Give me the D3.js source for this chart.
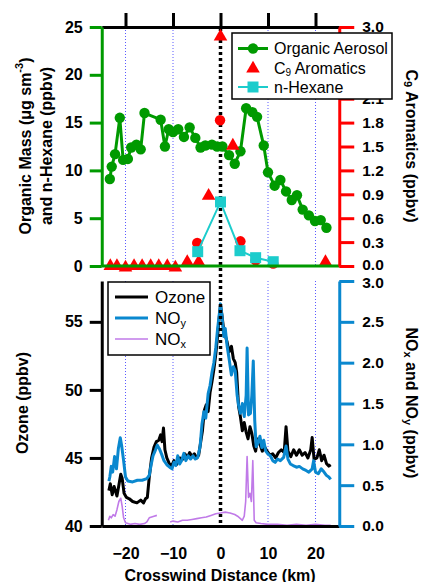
<!DOCTYPE html>
<html><head><meta charset="utf-8">
<script src="https://cdn.jsdelivr.net/npm/d3@7"></script>
<style>
html,body{margin:0;padding:0;background:#fff;}
svg{display:block;font-family:"Liberation Sans",Arial,Helvetica,sans-serif;}
</style></head>
<body><svg id="c" width="426" height="582"></svg>
<script>
// ---------- DATA ----------
const xTicks = [-20, -10, 0, 10, 20];
const orgMassTicks = [0, 5, 10, 15, 20, 25];
const c9Ticks = [0, 0.3, 0.6, 0.9, 1.2, 1.5, 1.8, 2.1, 2.4, 2.7, 3.0];
const c9HiddenLabels = [2.4, 2.7]; // covered by the legend box in the original
const ozoneTicks = [40, 45, 50, 55];
const noTicks = [0, 0.5, 1.0, 1.5, 2.0, 2.5, 3.0];

// Organic aerosol [km, ug sm-3]
const organicAerosol = [
 [-23.3,9.1],[-22.9,10.4],[-22.2,11.7],[-21.2,15.5],[-20.5,11.1],[-19.5,11.2],[-18.8,12.4],
 [-17.7,12.7],[-16.8,12.2],[-16.0,16.0],[-12.6,15.3],[-11.7,12.5],[-10.9,14.3],[-10.0,14.0],
 [-8.9,14.3],[-7.7,13.5],[-6.5,14.5],[-5.3,13.4],[-4.2,12.4],[-3.2,12.6],[-1.8,12.7],[-0.7,12.5],
 [0.4,12.5],[1.8,11.6],[3.0,10.7],[4.2,12.0],[5.4,16.5],[6.7,16.1],[7.7,15.6],[9.1,12.6],
 [10.0,9.8],[11.4,8.4],[12.6,9.0],[13.8,7.8],[15.0,6.9],[16.1,7.4],[17.3,5.9],[18.6,5.3],
 [19.9,4.7],[21.1,4.8],[22.3,4.0]
];
// C9 aromatics, triangles [km, ppbv]
const c9Aromatics = [
 [-23.2,0.0],[-21.8,0.0],[-20.0,-0.02],[-18.2,0.0],[-16.5,0.0],[-14.7,0.0],[-13.0,0.0],
 [-11.2,0.0],[-9.5,-0.02],[-7.0,0.05],[-4.6,0.05],[-2.5,0.88],[0.0,2.88],[2.6,1.51],[22.1,0.05]
];
// C9 aromatics, circles (second measurement) [km, ppbv]
const c9Circles = [[-4.9,0.29],[-0.1,1.83],[4.2,0.31],[7.4,0.07],[11.1,0.03]];
// n-Hexane [km, ppbv]
const nHexane = [[-4.8,1.5],[0.0,6.7],[4.1,1.6],[7.4,0.87],[11.1,0.45]];

// Ozone [km, ppbv]
const ozone = [
 [-23.5,42.6],[-23.2,43.1],[-22.8,42.3],[-22.4,42.9],[-21.8,42.2],[-21.4,43.0],[-21.0,43.8],
 [-20.7,43.5],[-20.3,42.4],[-19.8,42.1],[-19.2,42.0],[-18.5,41.8],[-17.6,41.7],[-16.8,41.9],
 [-16.2,41.7],[-15.8,42.0],[-15.4,42.1],[-15.0,43.6],[-14.5,45.0],[-14.0,45.8],[-13.5,46.2],
 [-13.0,46.3],[-12.6,46.7],[-12.3,46.2],[-12.0,47.2],[-11.7,45.6],[-11.3,45.0],[-10.8,44.6],
 [-10.3,44.4],[-9.8,44.8],[-9.3,44.5],[-8.6,45.0],[-8.0,44.9],[-7.5,45.3],[-7.0,45.0],
 [-6.5,45.4],[-6.0,45.1],[-5.5,45.3],[-5.0,45.0],[-4.6,45.2],[-4.2,46.1],[-3.8,47.0],
 [-3.4,48.5],[-3.0,48.9],[-2.6,48.4],[-2.2,49.8],[-1.8,50.6],[-1.4,51.5],[-1.0,52.6],
 [-0.6,54.0],[-0.3,55.2],[0.0,56.2],[0.3,55.5],[0.6,54.6],[1.0,54.0],[1.4,53.5],[1.8,52.8],
 [2.3,53.2],[2.7,52.3],[3.1,52.0],[3.4,51.3],[3.8,48.8],[4.2,48.0],[4.6,47.0],[5.0,47.6],
 [5.4,46.9],[5.8,46.4],[6.2,47.3],[6.6,46.8],[7.0,45.9],[7.4,45.5],[7.8,46.4],[8.3,46.0],
 [8.8,45.5],[9.3,45.8],[9.8,45.5],[10.4,45.2],[11.0,45.3],[11.6,45.0],[12.2,45.4],[12.8,45.6],
 [13.4,45.4],[13.8,47.3],[14.2,45.5],[14.8,45.1],[15.4,45.6],[16.0,45.2],[16.6,45.6],
 [17.2,45.2],[17.8,45.4],[18.4,45.0],[19.0,45.6],[19.3,46.5],[19.7,44.9],[20.3,45.0],
 [20.8,45.6],[21.3,44.8],[21.8,45.2],[22.3,44.6],[22.8,44.4],[23.2,44.5]
];
// NOy [km, ppbv]
const noy = [
 [-23.5,0.55],[-23.3,0.60],[-23.0,0.73],[-22.7,0.66],[-22.3,0.85],[-21.9,0.70],[-21.5,0.95],
 [-21.1,1.08],[-20.8,0.98],[-20.4,0.80],[-20.0,0.60],[-19.5,0.55],[-18.5,0.54],[-17.5,0.56],
 [-16.5,0.56],[-15.5,0.58],[-15.0,0.62],[-14.6,0.75],[-14.2,0.86],[-13.7,0.93],[-13.3,0.99],
 [-12.9,0.95],[-12.4,0.88],[-11.9,0.80],[-11.3,0.75],[-10.7,0.72],[-10.2,0.70],[-9.8,0.78],
 [-9.4,0.74],[-9.0,0.86],[-8.6,0.76],[-8.2,0.80],[-7.7,0.89],[-7.3,0.80],[-6.8,0.86],
 [-6.3,0.82],[-5.8,0.86],[-5.3,0.82],[-4.8,0.84],[-4.3,0.97],[-3.9,1.25],[-3.5,1.40],
 [-3.1,1.32],[-2.6,1.62],[-2.2,1.72],[-1.8,1.88],[-1.4,2.00],[-1.0,2.18],[-0.6,2.42],
 [-0.2,2.62],[0.0,2.72],[0.3,2.58],[0.7,2.32],[1.0,2.42],[1.4,2.20],[1.8,2.05],[2.3,1.85],
 [2.7,1.95],[3.1,1.90],[3.5,1.60],[3.8,1.48],[4.2,1.38],[4.6,1.50],[5.0,1.34],[5.4,1.60],
 [5.6,2.18],[5.9,1.36],[6.3,1.38],[6.6,1.60],[6.9,2.02],[7.2,1.30],[7.5,0.97],[7.9,1.02],
 [8.3,1.10],[8.7,0.96],[9.1,1.05],[9.5,0.92],[10.0,0.88],[10.5,0.86],[11.0,0.80],[11.5,0.78],
 [12.0,0.82],[12.6,0.80],[13.3,0.84],[13.8,0.98],[14.2,0.82],[14.7,0.76],[15.3,0.74],
 [16.0,0.72],[16.6,0.73],[17.3,0.70],[18.0,0.68],[18.6,0.66],[19.3,0.70],[19.6,0.80],
 [20.0,0.66],[20.6,0.64],[21.2,0.70],[21.8,0.66],[22.3,0.62],[22.8,0.60],[23.2,0.57]
];
// NOx [km, ppbv]; null = gap in record
const nox = [
 [-23.6,0.07],[-23.3,0.12],[-23.0,0.10],[-22.6,0.14],[-22.2,0.12],[-21.8,0.20],[-21.4,0.30],
 [-21.0,0.34],[-20.7,0.24],[-20.4,0.10],[-20.0,0.04],[-19.0,0.02],[-18.0,0.03],[-17.0,0.02],
 [-16.0,0.03],[-15.5,0.05],[-15.0,0.10],[-14.5,0.11],[-14.0,0.12],[-13.4,0.13],[-12.0,null],
 [-10.6,0.05],[-10.0,0.06],[-9.0,0.05],[-8.0,0.07],[-7.0,0.07],[-6.0,0.08],[-5.0,0.09],
 [-4.0,0.10],[-3.0,0.11],[-2.0,0.13],[-1.0,0.15],[0.0,0.16],[1.0,0.17],[2.0,0.16],[3.0,0.14],
 [3.6,0.12],[4.2,0.09],[4.6,0.07],[5.0,0.12],[5.3,0.30],[5.6,0.85],[5.9,0.35],[6.2,0.40],
 [6.5,0.30],[6.8,0.80],[7.1,0.07],[7.5,0.04],[8.5,0.03],[10.0,0.02],[12.0,0.02],[14.0,0.01],
 [16.0,0.02],[18.0,0.01],[20.0,0.02],[22.0,0.01],[23.2,0.01]
];

// ---------- DRAW ----------
const svg = d3.select("#c");
const FONT = '"Liberation Sans",Arial,Helvetica,sans-serif';
const C = {green:"#009a00", red:"#ff0000", cyan:"#1ccccc", blue:"#0a88cf", purple:"#c07ae8", black:"#000"};

const x = d3.scaleLinear().domain([-25, 25]).range([101.75, 339.25]);
const yOrg = d3.scaleLinear().domain([0, 25]).range([266, 27]);
const yC9 = d3.scaleLinear().domain([0, 3]).range([266, 27]);
const yO3 = d3.scaleLinear().domain([40, 58]).range([526, 281]);
const yNO = d3.scaleLinear().domain([0, 3]).range([526, 281]);

function styleAxis(g, color, size) {
  g.select(".domain").attr("stroke", color).attr("stroke-width", 3);
  g.selectAll(".tick line").attr("stroke", color).attr("stroke-width", 3);
  g.selectAll(".tick text").attr("fill", "#000").attr("font-size", size || 16)
    .attr("font-weight", "bold").attr("font-family", FONT);
}

// vertical grid lines (blue dotted)
const gridX = xTicks.filter(d => d !== 0);
[[27, 266], [281, 526]].forEach(([y0, y1]) => {
  svg.append("g").selectAll("line").data(gridX).join("line")
    .attr("x1", d => x(d)).attr("x2", d => x(d)).attr("y1", y0).attr("y2", y1)
    .attr("stroke", "#5a5aff").attr("stroke-width", 1).attr("stroke-dasharray", "1,2");
});

// ----- bottom panel lines -----
const lineO3 = d3.line().x(d => x(d[0])).y(d => yO3(d[1]));
const lineNO = d3.line().defined(d => d[1] !== null).x(d => x(d[0])).y(d => yNO(d[1]));
svg.append("path").datum(nox).attr("d", lineNO).attr("fill", "none")
  .attr("stroke", C.purple).attr("stroke-width", 1.6).attr("stroke-linejoin", "round");
svg.append("path").datum(ozone).attr("d", lineO3).attr("fill", "none")
  .attr("stroke", C.black).attr("stroke-width", 3).attr("stroke-linejoin", "round");
svg.append("path").datum(noy).attr("d", lineNO).attr("fill", "none")
  .attr("stroke", C.blue).attr("stroke-width", 3).attr("stroke-linejoin", "round");

// center dotted line (x = 0) through both panels
svg.append("line").attr("x1", x(0)).attr("x2", x(0)).attr("y1", 28).attr("y2", 526)
  .attr("stroke", "#000").attr("stroke-width", 3.5).attr("stroke-dasharray", "3,3");

// ----- top panel data -----
const lineOrg = d3.line().x(d => x(d[0])).y(d => yOrg(d[1]));
svg.append("path").datum(organicAerosol).attr("d", lineOrg).attr("fill", "none")
  .attr("stroke", C.green).attr("stroke-width", 3).attr("stroke-linejoin", "round");
svg.append("g").selectAll("circle").data(organicAerosol).join("circle")
  .attr("cx", d => x(d[0])).attr("cy", d => yOrg(d[1])).attr("r", 5.2).attr("fill", C.green);

const tri = d3.symbol(d3.symbolTriangle, 80);
svg.append("g").selectAll("path").data(c9Aromatics).join("path")
  .attr("d", tri).attr("transform", d => `translate(${x(d[0])},${yC9(d[1])})`).attr("fill", C.red);
svg.append("g").selectAll("circle").data(c9Circles).join("circle")
  .attr("cx", d => x(d[0])).attr("cy", d => yC9(d[1])).attr("r", 5.2).attr("fill", C.red);

svg.append("path").datum(nHexane).attr("d", lineOrg).attr("fill", "none")
  .attr("stroke", C.cyan).attr("stroke-width", 2);
const sq = d3.symbol(d3.symbolSquare, 121);
svg.append("g").selectAll("path").data(nHexane).join("path")
  .attr("d", sq).attr("transform", d => `translate(${x(d[0])},${yOrg(d[1])})`).attr("fill", C.cyan);

// ----- axes top panel -----
const gTop = svg.append("g").attr("transform", "translate(0,27)")
  .call(d3.axisTop(x).tickValues(xTicks).tickSize(14).tickSizeOuter(0).tickFormat(""));
styleAxis(gTop, "#000");
svg.append("line").attr("x1", x(-25)).attr("x2", x(25)).attr("y1", 266).attr("y2", 266)
  .attr("stroke", C.green).attr("stroke-width", 3);

const gOrg = svg.append("g").attr("transform", `translate(${x(-25)},0)`)
  .call(d3.axisLeft(yOrg).tickValues(orgMassTicks).tickSize(12).tickSizeOuter(0).tickPadding(7));
styleAxis(gOrg, C.green);

const gC9 = svg.append("g").attr("transform", `translate(${x(25)},0)`)
  .call(d3.axisRight(yC9).tickValues(c9Ticks).tickSize(15).tickSizeOuter(0).tickPadding(8)
    .tickFormat(d => c9HiddenLabels.includes(d) ? "" : d3.format(".1f")(d)));
styleAxis(gC9, C.red, 15.5);
gC9.selectAll(".tick text").filter(d => d === 0).attr("dy", "0.22em");

// ----- axes bottom panel -----
const gBot = svg.append("g").attr("transform", "translate(0,526)")
  .call(d3.axisBottom(x).tickValues(xTicks).tickSize(0).tickSizeOuter(0).tickPadding(0)
    .tickFormat(d3.format("d")));
styleAxis(gBot, "#000");
gBot.selectAll(".tick text").attr("y", 27).attr("dy", "0.35em");

const gO3 = svg.append("g").attr("transform", `translate(${x(-25)},0)`)
  .call(d3.axisLeft(yO3).tickValues(ozoneTicks).tickSize(12).tickSizeOuter(0).tickPadding(7));
styleAxis(gO3, "#000");

const gNO = svg.append("g").attr("transform", `translate(${x(25)},0)`)
  .call(d3.axisRight(yNO).tickValues(noTicks).tickSize(15).tickSizeOuter(0).tickPadding(8)
    .tickFormat(d3.format(".1f")));
styleAxis(gNO, C.blue, 15.5);
gNO.selectAll(".tick text").filter(d => d === 3).attr("dy", "0.45em");

// ----- axis titles -----
function vText(cx, cy, rot, size) {
  return svg.append("text").attr("transform", `translate(${cx},${cy}) rotate(${rot})`)
    .attr("text-anchor", "middle").attr("dominant-baseline", "central")
    .attr("font-size", size).attr("font-weight", "bold").attr("font-family", FONT);
}
const t1 = vText(25, 146, -90, 16);
t1.append("tspan").text("Organic Mass (\u03bcg sm");
t1.append("tspan").attr("font-size", 11).attr("dy", -6).text("-3");
t1.append("tspan").attr("dy", 6).text(")");
vText(46, 146, -90, 16).text("and n-Hexane (ppbv)");

const t2 = vText(412, 146, 90, 16);
t2.append("tspan").text("C");
t2.append("tspan").attr("font-size", 11).attr("dy", 4).text("9");
t2.append("tspan").attr("dy", -4).text(" Aromatics (ppbv)");

vText(22, 403, -90, 16).text("Ozone (ppbv)");

const t3 = vText(412, 403, 90, 16);
t3.append("tspan").text("NO");
t3.append("tspan").attr("font-size", 11).attr("dy", 4).text("x");
t3.append("tspan").attr("dy", -4).text(" and NO");
t3.append("tspan").attr("font-size", 11).attr("dy", 4).text("y");
t3.append("tspan").attr("dy", -4).text(" (ppbv)");

svg.append("text").attr("x", 220).attr("y", 575).attr("text-anchor", "middle")
  .attr("dominant-baseline", "central").attr("font-size", 16).attr("font-weight", "bold")
  .attr("font-family", FONT).text("Crosswind Distance (km)");

// ----- legends -----
const lg1 = svg.append("g");
lg1.append("rect").attr("x", 232).attr("y", 33).attr("width", 160).attr("height", 66)
  .attr("fill", "#fff").attr("stroke", "#000").attr("stroke-width", 1.5);
const lgRows1 = [48.5, 67.5, 87];
lg1.append("line").attr("x1", 238).attr("x2", 268).attr("y1", lgRows1[0]).attr("y2", lgRows1[0])
  .attr("stroke", C.green).attr("stroke-width", 3);
lg1.append("circle").attr("cx", 253).attr("cy", lgRows1[0]).attr("r", 5.2).attr("fill", C.green);
lg1.append("path").attr("d", tri).attr("transform", `translate(253,${lgRows1[1] + 1})`).attr("fill", C.red);
lg1.append("line").attr("x1", 238).attr("x2", 268).attr("y1", lgRows1[2]).attr("y2", lgRows1[2])
  .attr("stroke", C.cyan).attr("stroke-width", 2);
lg1.append("path").attr("d", sq).attr("transform", `translate(253,${lgRows1[2]})`).attr("fill", C.cyan);
function lgText(g, xx, yy, size) {
  return g.append("text").attr("x", xx).attr("y", yy).attr("dominant-baseline", "central")
    .attr("font-size", size).attr("font-family", FONT);
}
lgText(lg1, 274, lgRows1[0], 16).text("Organic Aerosol");
const lt2 = lgText(lg1, 274, lgRows1[1], 16);
lt2.append("tspan").text("C");
lt2.append("tspan").attr("font-size", 10).attr("dy", 4).text("9");
lt2.append("tspan").attr("dy", -4).text(" Aromatics");
lgText(lg1, 274, lgRows1[2], 16).text("n-Hexane");

const lg2 = svg.append("g");
lg2.append("rect").attr("x", 108).attr("y", 282).attr("width", 102).attr("height", 73)
  .attr("fill", "#fff").attr("stroke", "#000").attr("stroke-width", 1.5);
const lgRows2 = [297, 318, 339];
[[C.black, 3], [C.blue, 3], [C.purple, 1.6]].forEach(([col, w], i) => {
  lg2.append("line").attr("x1", 115).attr("x2", 148).attr("y1", lgRows2[i]).attr("y2", lgRows2[i])
    .attr("stroke", col).attr("stroke-width", w);
});
lgText(lg2, 155, lgRows2[0], 17).text("Ozone");
const l2b = lgText(lg2, 155, lgRows2[1], 17);
l2b.append("tspan").text("NO");
l2b.append("tspan").attr("font-size", 11).attr("dy", 5).text("y");
const l2c = lgText(lg2, 155, lgRows2[2], 17);
l2c.append("tspan").text("NO");
l2c.append("tspan").attr("font-size", 11).attr("dy", 5).text("x");
</script></body></html>
